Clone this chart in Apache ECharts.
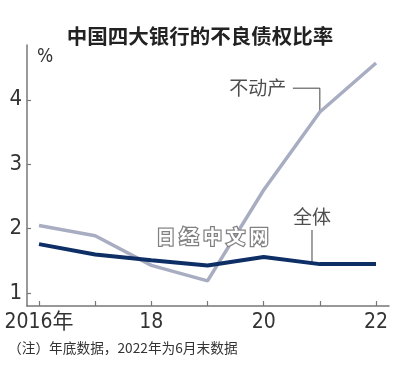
<!DOCTYPE html>
<html>
<head>
<meta charset="utf-8">
<script src="https://cdn.jsdelivr.net/npm/echarts@6/dist/echarts.min.js"></script>
<style>
html,body{margin:0;padding:0;background:#fff;}
#c{width:400px;height:375px;}
</style>
</head>
<body>
<div id="c"></div>
<script>
// ---- data ----
const years = [2016, 2017, 2018, 2019, 2020, 2021, 2022];
const realEstate = [2.05, 1.89, 1.43, 1.19, 2.60, 3.81, 4.57];   // 不动产
const overall = [1.76, 1.60, 1.51, 1.43, 1.56, 1.45, 1.45];      // 全体
const yTicks = [1, 2, 3, 4];
const xLabelYears = [2016, 2018, 2020, 2022];
const xLabelTexts = ['2016年', '18', '20', '22'];
const titleText = '中国四大银行的不良债权比率';
const noteText = '（注）年底数据，2022年为6月末数据';
const unitText = '%';
const seriesNames = ['不动产', '全体'];
const watermarkText = '日 经 中 文 网';

// annotation anchors in data space
const reLeader = [[2020.52, 4.18], [2021, 4.18], [2021, 3.81]];
const reLabelAt = [2020.40, 4.18];
const ovLeader = [[2020.86, 1.98], [2020.86, 1.48]];
const ovLabelAt = [2020.86, 2.18];

const chart = echarts.init(document.getElementById('c'), null, {renderer: 'canvas'});
const narrow = "'Liberation Sans Narrow', 'DejaVu Sans Condensed', 'Noto Sans CJK SC', sans-serif";
const cjk = "'Noto Sans CJK SC', sans-serif";

const option = {
  backgroundColor: '#fff',
  animation: false,
  title: {
    text: titleText,
    left: 'center',
    top: 21,
    textStyle: {fontFamily: cjk, fontSize: 20.5, fontWeight: 'bold', color: '#222'}
  },
  grid: {left: 27, right: 11, top: 45, bottom: 69, containLabel: false},
  xAxis: {
    type: 'value',
    min: 2015.786,
    max: 2022.231,
    splitLine: {show: false},
    axisLine: {show: true, lineStyle: {color: '#777', width: 1.5}},
    axisTick: {show: true, inside: true, length: 5, customValues: years, lineStyle: {color: '#777', width: 1.2}},
    axisLabel: {
      customValues: xLabelYears,
      margin: 6,
      fontFamily: narrow,
      fontSize: 21,
      color: '#333',
      formatter: v => xLabelTexts[xLabelYears.indexOf(Math.round(v))]
    }
  },
  yAxis: {
    type: 'value',
    min: 0.8,
    max: 4.85,
    splitLine: {show: false},
    axisLine: {show: true, lineStyle: {color: '#777', width: 1.5}},
    axisTick: {show: true, inside: true, length: 4, customValues: yTicks, lineStyle: {color: '#777', width: 1.2}},
    axisLabel: {
      customValues: yTicks,
      margin: 5,
      fontFamily: narrow,
      fontSize: 22,
      color: '#333'
    }
  },
  graphic: [
    {type: 'text', left: 37, top: 48, style: {text: unitText, font: "19px " + narrow, fill: '#333'}},
    {type: 'text', left: 8, top: 341, style: {text: noteText, font: "13.7px " + cjk, fill: '#333'}},
    {type: 'text', left: 155, top: 226, z: 100,
      style: {text: watermarkText, font: "bold 19px " + cjk, fill: '#fff', stroke: '#808080', lineWidth: 2.5}}
  ],
  series: [
    {
      name: seriesNames[0], type: 'line', symbol: 'none', z: 2,
      data: years.map((y, i) => [y, realEstate[i]]),
      lineStyle: {color: '#a9adc2', width: 3.5}
    },
    {
      name: seriesNames[1], type: 'line', symbol: 'none', z: 3,
      data: years.map((y, i) => [y, overall[i]]),
      lineStyle: {color: '#0d2f66', width: 4}
    },
    {
      type: 'line', symbol: 'none', z: 1, silent: true,
      data: reLeader, lineStyle: {color: '#444', width: 1}
    },
    {
      type: 'line', symbol: 'none', z: 1, silent: true,
      data: ovLeader, lineStyle: {color: '#444', width: 1}
    },
    {
      type: 'scatter', symbolSize: 0, silent: true,
      data: [reLabelAt],
      label: {show: true, position: 'left', distance: 0, formatter: seriesNames[0],
        fontFamily: cjk, fontSize: 19, color: '#222'}
    },
    {
      type: 'scatter', symbolSize: 0, silent: true,
      data: [ovLabelAt],
      label: {show: true, position: 'inside', formatter: seriesNames[1],
        fontFamily: cjk, fontSize: 19, color: '#222'}
    }
  ]
};
chart.setOption(option);
</script>
</body>
</html>
